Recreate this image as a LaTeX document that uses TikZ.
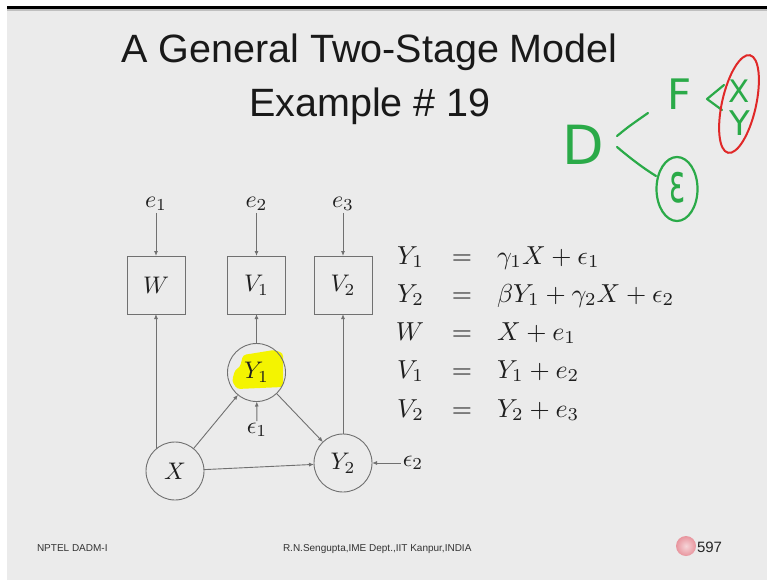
\documentclass[tikz,border=0pt]{standalone}
\usepackage{fontspec}
\newfontfamily\slidesans{Liberation Sans}
\newfontfamily\penfont{DejaVu Sans}
\usetikzlibrary{arrows.meta,shapes.geometric}

\definecolor{slidebg}{HTML}{EBEBEB}
\definecolor{inkgray}{HTML}{707070}
\definecolor{mathink}{HTML}{1E1E1E}
\definecolor{pengreen}{HTML}{2AAA48}
\definecolor{penred}{HTML}{E02828}
\definecolor{hilite}{HTML}{F4F400}
\definecolor{badgepink}{HTML}{E8959E}

\newcommand\titlefont{\slidesans\fontsize{39.5}{46}\selectfont}
\newcommand\footfont{\slidesans\fontsize{10}{12}\selectfont}
\newcommand\pagefont{\slidesans\fontsize{15}{18}\selectfont}
% math set at 10pt and enlarged
\newcommand\diagmath[1]{\scalebox{2.4}{$#1$}}
\newcommand\eqmath[1]{\scalebox{2.6}{$#1$}}

\begin{document}
\begin{tikzpicture}[x=1pt,y=-1pt,
  every node/.style={inner sep=0pt,outer sep=0pt},
  obs/.style={draw=inkgray,line width=0.9pt,minimum width=58pt,minimum height=58pt,text=mathink},
  latent/.style={circle,draw=inkgray,line width=0.9pt,minimum size=58pt,text=mathink},
  errlbl/.style={text=mathink,inner sep=2pt},
  arr/.style={draw=inkgray,line width=0.9pt,-{Latex[length=5pt,width=4pt]}},
  eqn/.style={text=mathink},
  pen/.style={draw=pengreen,line width=2.2pt,line cap=round,line join=round},
  pentext/.style={text=pengreen},
]
% slide frame
\fill[white] (0,0) rectangle (767,580);
\fill[slidebg] (7,9) rectangle (767,580);
\fill[black] (7,6.5) rectangle (767,9.5);
\fill[black!25] (7,9.5) rectangle (767,11);

% title
\node[font=\titlefont,text=black!90,anchor=base] (title1) at (369.5,63) {A General Two-Stage Model};
\node[font=\titlefont,text=black!90,anchor=base] (title2) at (370,117) {Example \# 19};

% highlight behind Y_1
\fill[hilite,rounded corners=3pt] (243,355) -- (274,350) -- (283,353) -- (283,387) -- (237,389)
  -- (232,381) -- (235,370) -- (240,367) -- cycle;

% path diagram
\node[obs] (W)  at (156,285) {\diagmath{W}};
\node[obs] (V1) at (256.5,285) {\diagmath{V_1}};
\node[obs] (V2) at (343,285) {\diagmath{V_2}};
\node[latent] (Y1) at (256.5,372.5) {\diagmath{Y_1}};
\node[latent] (X)  at (175,471) {\diagmath{X}};
\node[latent] (Y2) at (343,463) {\diagmath{Y_2}};

\node[errlbl] (e1) at (156,204) {\diagmath{e_1}};
\node[errlbl] (e2) at (256.5,204) {\diagmath{e_2}};
\node[errlbl] (e3) at (343,204) {\diagmath{e_3}};
\node[errlbl] (eps1) at (257,430) {\diagmath{\epsilon_1}};
\node[errlbl] (eps2) at (413,463) {\diagmath{\epsilon_2}};

\draw[arr] (e1) -- (W);
\draw[arr] (e2) -- (V1);
\draw[arr] (e3) -- (V2);
\draw[arr] (X.131) -- (X.131 |- W.south);
\draw[arr] (Y1) -- (V1);
\draw[arr] (Y2) -- (V2);
\draw[arr] (X) -- (Y1);
\draw[arr] (X) -- (Y2);
\draw[arr] (Y1) -- (Y2);
\draw[arr] (eps1) -- (Y1);
\draw[arr] (eps2) -- (Y2);

% structural equations
\foreach \row/\yb/\lhs/\rhs in {
  1/264/{Y_1}/{\gamma_1 X+\epsilon_1},
  2/302/{Y_2}/{\beta Y_1+\gamma_2 X+\epsilon_2},
  3/340/{W}/{X+e_1},
  4/378/{V_1}/{Y_1+e_2},
  5/417/{V_2}/{Y_2+e_3}}{
  \node[eqn,anchor=base east] (lhs\row) at (424,\yb) {\eqmath{\lhs}};
  \node[eqn,anchor=base] (eq\row) at (462,\yb) {\eqmath{=}};
  \node[eqn,anchor=base west] (rhs\row) at (497,\yb) {\eqmath{\rhs}};
}

% pen annotations
\node[pentext,font=\penfont\fontsize{54}{60}\selectfont] (hD) at (583,145) {D};
\node[pentext,font=\penfont\fontsize{42}{48}\selectfont] (hF) at (680,94) {F};
\node[pentext,font=\penfont\fontsize{31}{36}\selectfont] (hX) at (739,91) {X};
\node[pentext,font=\penfont\fontsize{34}{40}\selectfont] (hY) at (740,123) {Y};
\node[pentext,font=\penfont\fontsize{30}{36}\selectfont,yscale=1.8] (hE) at (678,188) {ε};
\coordinate (dUp) at (617,136);
\coordinate (fIn) at (648,113);
\coordinate (dDn) at (617,147);
\coordinate (eIn) at (656,176);
\draw[pen] (dUp) .. controls (628,127) .. (fIn);
\draw[pen] (dDn) .. controls (630,158) and (643,168) .. (eIn);
\draw[pen] (724,85) -- (707,99) -- (722,110);
\node[ellipse,draw=pengreen,line width=2.2pt,minimum width=41pt,minimum height=64pt] (ering) at (677,189) {};
\node[ellipse,draw=penred,line width=2pt,minimum width=34pt,minimum height=100pt,rotate=-12.7] (ring) at (739,104) {};

% footer
\node[font=\footfont,text=black!80,anchor=base west] (foot1) at (37,551) {NPTEL DADM-I};
\node[font=\footfont,text=black!80,anchor=base west] (foot2) at (283,551) {R.N.Sengupta,IME Dept.,IIT Kanpur,INDIA};
\shade[inner color=badgepink!40,outer color=badgepink] (686,546) circle (10);
\node[font=\pagefont,text=black!85,anchor=base west] (page) at (697,552) {597};
\end{tikzpicture}
\end{document}
